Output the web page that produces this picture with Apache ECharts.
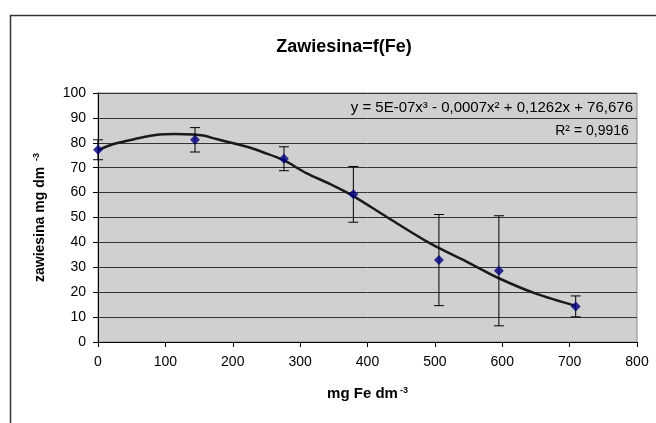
<!DOCTYPE html>
<html>
<head>
<meta charset="utf-8">
<script src="https://cdn.jsdelivr.net/npm/echarts@6/dist/echarts.min.js"></script>
<style>
html,body{margin:0;padding:0;background:#fff;}
#c{width:656px;height:423px;}
</style>
</head>
<body>
<div id="c"></div>
<script>
// Measured data (mg Fe dm-3 vs zawiesina mg dm-3)
var feValues = [0, 144, 276, 379, 506, 595, 709];
var zawValues = [77.2, 81.2, 73.6, 59.3, 32.9, 28.6, 14.3];
var errValues = [4.0, 4.9, 4.8, 11.2, 18.3, 22.1, 4.2];
// Trend line
var trendX = [0, 23, 48, 72, 92, 115, 141, 156, 176, 201, 221, 245, 275, 310, 344, 379, 428, 493, 552, 595, 651, 709];
var trendY = [77, 79.5, 81.1, 82.5, 83.3, 83.5, 83.3, 82.9, 81.5, 79.8, 78.4, 76.2, 73.1, 67.7, 63.5, 58.6, 50.3, 39.6, 31.6, 25.6, 19.3, 14.5];
var yTicks = [0, 10, 20, 30, 40, 50, 60, 70, 80, 90, 100];
var xTicks = [0, 100, 200, 300, 400, 500, 600, 700, 800];

var FONT = '"Liberation Sans", Arial, sans-serif';
var points = feValues.map(function(x, i){ return [x, zawValues[i]]; });
var errData = feValues.map(function(x, i){ return [x, zawValues[i] - errValues[i], zawValues[i] + errValues[i]]; });
var trend = trendX.map(function(x, i){ return [x, trendY[i]]; });

var chart = echarts.init(document.getElementById('c'), null, {renderer: 'canvas'});
chart.setOption({
  animation: false,
  backgroundColor: '#fff',
  title: {
    text: 'Zawiesina=f(Fe)',
    left: 339, top: 33, textAlign: 'center',
    textStyle: {fontFamily: FONT, fontSize: 18, fontWeight: 'bold', color: '#000'}
  },
  grid: {left: 98, top: 93, right: 19, bottom: 81, show: true, backgroundColor: '#d0d0d0', borderColor: '#8a8a8a', borderWidth: 1},
  xAxis: {
    type: 'value', min: xTicks[0], max: xTicks[xTicks.length - 1], interval: 100,
    axisLine: {lineStyle: {color: '#000', width: 1}},
    axisTick: {show: true, inside: false, length: 5, lineStyle: {color: '#000'}},
    axisLabel: {fontFamily: FONT, fontSize: 14, color: '#000', margin: 13},
    splitLine: {show: false},
    name: '{n|mg Fe dm}{s|-3}', nameLocation: 'middle', nameGap: 44,
    nameTextStyle: {rich: {
      n: {fontFamily: FONT, fontSize: 15, fontWeight: 'bold', color: '#000'},
      s: {fontFamily: FONT, fontSize: 9, fontWeight: 'bold', color: '#000', verticalAlign: 'top', padding: [0,0,7,2]}
    }}
  },
  yAxis: {
    type: 'value', min: yTicks[0], max: yTicks[yTicks.length - 1], interval: 10,
    axisLine: {show: true, lineStyle: {color: '#000', width: 1}},
    axisTick: {show: true, inside: false, length: 5, lineStyle: {color: '#000'}},
    axisLabel: {fontFamily: FONT, fontSize: 14, color: '#000', margin: 12},
    splitLine: {show: true, lineStyle: {color: '#333', width: 1}},
    name: '{n|zawiesina mg dm }{s|-3}', nameLocation: 'middle', nameGap: 50, nameRotate: 90,
    nameTextStyle: {rich: {
      n: {fontFamily: FONT, fontSize: 14, fontWeight: 'bold', color: '#000'},
      s: {fontFamily: FONT, fontSize: 9, fontWeight: 'bold', color: '#000', verticalAlign: 'top', padding: [0,0,7,2]}
    }}
  },
  series: [
    {
      type: 'line', data: trend, smooth: 0.3, showSymbol: false, z: 3,
      lineStyle: {color: '#1a1a1a', width: 2.5}
    },
    {
      type: 'custom', z: 4,
      data: errData,
      renderItem: function(params, api){
        var x = api.value(0), lo = api.value(1), hi = api.value(2);
        var pLo = api.coord([x, lo]), pHi = api.coord([x, hi]);
        var cap = 5;
        var st = {stroke: '#000', lineWidth: 1};
        return {type: 'group', children: [
          {type: 'line', shape: {x1: pLo[0], y1: pLo[1], x2: pHi[0], y2: pHi[1]}, style: st},
          {type: 'line', shape: {x1: pLo[0]-cap, y1: pLo[1], x2: pLo[0]+cap, y2: pLo[1]}, style: st},
          {type: 'line', shape: {x1: pHi[0]-cap, y1: pHi[1], x2: pHi[0]+cap, y2: pHi[1]}, style: st}
        ]};
      }
    },
    {
      type: 'scatter', data: points, symbol: 'diamond', symbolSize: 10, z: 5,
      itemStyle: {color: '#000080'}
    }
  ],
  graphic: [
    {type: 'rect', left: 8, top: 13, shape: {x: 0, y: 0, width: 700, height: 500}, style: {fill: 'none', stroke: '#333', lineWidth: 1.5}, z: -1, silent: true},
    {type: 'text', x: 633, y: 108, style: {text: 'y = 5E-07x³ - 0,0007x² + 0,1262x + 76,676', fontFamily: FONT, fontSize: 15, fill: '#000', align: 'right', verticalAlign: 'middle'}, z: 10},
    {type: 'text', x: 592, y: 131, style: {text: 'R² = 0,9916', fontFamily: FONT, fontSize: 14, fill: '#000', align: 'center', verticalAlign: 'middle'}, z: 10}
  ]
});
</script>
</body>
</html>
